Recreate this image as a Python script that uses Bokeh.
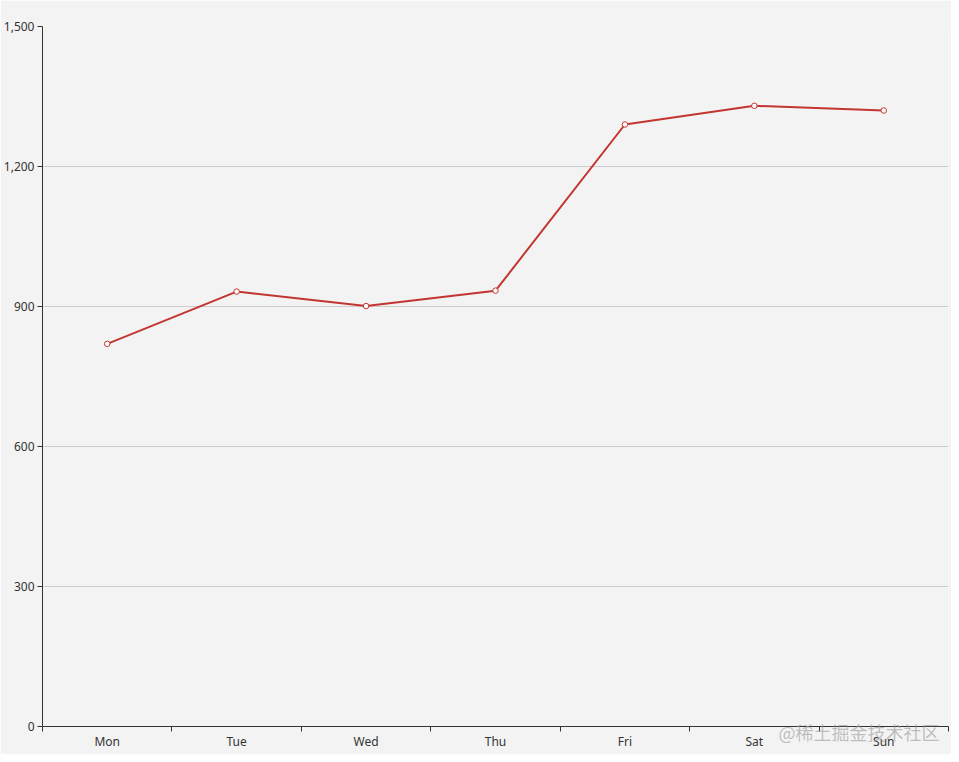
from bokeh.plotting import figure
from bokeh.models import FixedTicker, NumeralTickFormatter, Range1d, Label, ColumnDataSource
from bokeh.embed import file_html
from bokeh.resources import INLINE

days = ["Mon", "Tue", "Wed", "Thu", "Fri", "Sat", "Sun"]
values = [820, 932, 901, 934, 1290, 1330, 1320]
y_ticks = [0, 300, 600, 900, 1200, 1500]

FONT = "Noto Sans"
BG = "#f3f3f3"

xs = [i + 0.5 for i in range(len(days))]
src = ColumnDataSource(dict(x=xs, y=values, day=days))

p = figure(width=951, height=754, output_backend="svg", toolbar_location=None,
           x_range=Range1d(0, len(days)), y_range=Range1d(0, 1500),
           min_border_left=42, min_border_right=3, min_border_top=20, min_border_bottom=28,
           background_fill_color=BG, border_fill_color=BG)
p.outline_line_color = None

p.line("x", "y", source=src, line_color="#c23531", line_width=2)
p.scatter("x", "y", source=src, size=5.5, marker="circle", fill_color="white",
          line_color="#c23531", line_width=1)

# x axis: labels at band centres, ticks at band boundaries
xa = p.xaxis[0]
xa.ticker = FixedTicker(ticks=xs, minor_ticks=list(range(len(days) + 1)))
xa.major_label_overrides = {x: d for x, d in zip(xs, days)}
xa.major_tick_out = 0
xa.major_tick_in = 0
xa.minor_tick_out = 5
xa.minor_tick_in = 0
xa.minor_tick_line_color = "#333333"
xa.axis_line_color = "#333333"
xa.major_label_text_font = FONT
xa.major_label_text_font_size = "12px"
xa.major_label_text_color = "#333333"
xa.major_label_standoff = 1

ya = p.yaxis[0]
ya.ticker = FixedTicker(ticks=y_ticks)
ya.formatter = NumeralTickFormatter(format="0,0")
ya.major_tick_out = 5
ya.major_tick_in = 0
ya.minor_tick_line_color = None
ya.axis_line_color = "#333333"
ya.major_tick_line_color = "#333333"
ya.major_label_text_font = FONT
ya.major_label_text_font_size = "12px"
ya.major_label_text_color = "#333333"
ya.major_label_standoff = 3

p.xgrid.grid_line_color = None
p.ygrid.grid_line_color = "#cccccc"
p.ygrid.ticker = FixedTicker(ticks=y_ticks)

# site watermark, drawn in canvas pixels (kept in a side panel so it is not clipped)
wm = Label(x=778, y=731, x_units="canvas", y_units="canvas", text="@稀土掘金技术社区",
           text_font="Noto Sans CJK SC", text_font_size="18px", text_color="#999999",
           text_alpha=0.6, text_baseline="middle", text_align="left", level="overlay")
p.add_layout(wm, "above")

open("out.html", "w").write(file_html(p, INLINE))
